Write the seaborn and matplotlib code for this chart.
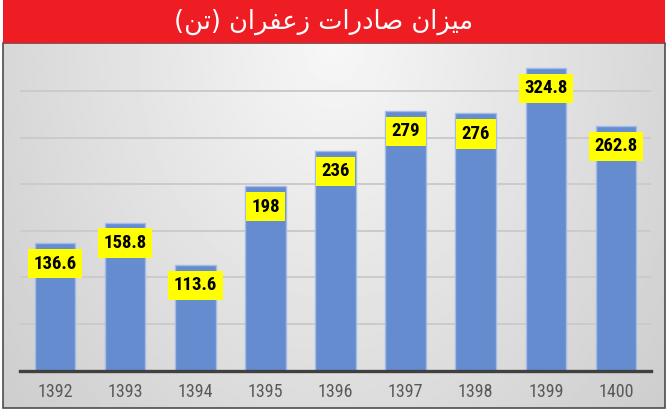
import numpy as np
import matplotlib.pyplot as plt
import matplotlib.patches as patches
from matplotlib import font_manager
import seaborn as sns

years = ["1392", "1393", "1394", "1395", "1396", "1397", "1398", "1399", "1400"]
exports = [136.6, 158.8, 113.6, 198, 236, 279, 276, 324.8, 262.8]
labels = ["136.6", "158.8", "113.6", "198", "236", "279", "276", "324.8", "262.8"]
title = "میزان صادرات زعفران (تن)"

# matplotlib has no arabic shaping, so pick presentation forms by hand
FORMS = {
    "ا": ("\uFE8D", "\uFE8E", None, None),
    "د": ("\uFEA9", "\uFEAA", None, None),
    "ر": ("\uFEAD", "\uFEAE", None, None),
    "ز": ("\uFEAF", "\uFEB0", None, None),
    "ت": ("\uFE95", "\uFE96", "\uFE97", "\uFE98"),
    "ص": ("\uFEB9", "\uFEBA", "\uFEBB", "\uFEBC"),
    "ع": ("\uFEC9", "\uFECA", "\uFECB", "\uFECC"),
    "ف": ("\uFED1", "\uFED2", "\uFED3", "\uFED4"),
    "م": ("\uFEE1", "\uFEE2", "\uFEE3", "\uFEE4"),
    "ن": ("\uFEE5", "\uFEE6", "\uFEE7", "\uFEE8"),
    "ی": ("\uFBFC", "\uFBFD", "\uFEF3", "\uFEF4"),
}


def shape(text):
    out = []
    for i, ch in enumerate(text):
        if ch not in FORMS:
            out.append(ch)
            continue
        iso, fin, ini, med = FORMS[ch]
        prev = text[i - 1] if i > 0 else ""
        nxt = text[i + 1] if i + 1 < len(text) else ""
        after = prev in FORMS and FORMS[prev][2] is not None
        before = ini is not None and nxt in FORMS
        if after and before:
            out.append(med)
        elif after:
            out.append(fin)
        elif before:
            out.append(ini)
        else:
            out.append(iso)
    vis = "".join(reversed(out))
    return vis.translate(str.maketrans("()", ")("))


sns.set_style("white")

# pick a narrow face if one is around
names = {f.name for f in font_manager.fontManager.ttflist}
narrow = "DejaVu Sans"
for cand in ["Liberation Sans Narrow", "DejaVu Sans Condensed", "Roboto Condensed"]:
    if cand in names:
        narrow = cand
        break

W, H = 668, 411
fig = plt.figure(figsize=(W / 100, H / 100), dpi=100)

# background panel with soft gradient
bg = fig.add_axes([0, 0, 1, 1])
bg.set_xlim(0, W)
bg.set_ylim(H, 0)
bg.axis("off")
gx, gy = np.meshgrid(np.linspace(0, 1, 300), np.linspace(0, 1, 200))
r = np.sqrt(((gx - 0.5) / 0.55) ** 2 + (gy / 1.3) ** 2)
grad = (247 - 35 * r) / 255
bg.imshow(grad, cmap="gray", vmin=0, vmax=1, extent=(3, 665, 408, 43),
          aspect="auto", zorder=0)
bg.add_patch(patches.Rectangle((3, 43), 662, 365, fill=False,
                               edgecolor="#4d4d4d", linewidth=1.2, zorder=2))
bg.add_patch(patches.Rectangle((3, 0), 662, 43, facecolor="#ee1d24",
                               edgecolor="none", zorder=2))
bg.text(324, 22, shape(title), color="white", fontsize=18.5, ha="center",
        va="center", family="DejaVu Sans", zorder=3)

ax = fig.add_axes([20 / W, 1 - 370.5 / H, 631 / W, (370.5 - 44.5) / H])
ax.set_facecolor("none")
sns.barplot(x=years, y=exports, color="#668cd0", saturation=1, width=0.58,
            edgecolor="#a3bde6", linewidth=1, ax=ax, zorder=3)

for i, (v, lab) in enumerate(zip(exports, labels)):
    ax.annotate(lab, (i, v), xytext=(0, -20.5), textcoords="offset pixels",
                ha="center", va="center", fontsize=13.5, fontweight="bold",
                family=narrow, stretch="condensed", color="black", zorder=5,
                bbox=dict(boxstyle="square,pad=0.3", facecolor="#ffff00",
                          edgecolor="none"))

ax.set_xlim(-0.5, 8.5)
ax.set_ylim(0, 350)
ax.set_yticks([50, 100, 150, 200, 250, 300])
ax.set_yticklabels([])
ax.grid(axis="y", color="#cbcbcb", linewidth=1.4, zorder=1)
ax.set_axisbelow(True)
ax.tick_params(axis="both", length=0)
ax.tick_params(axis="x", pad=9, labelsize=13, labelcolor="#595959")
for t in ax.get_xticklabels():
    t.set_family(narrow)
    t.set_stretch("condensed")
ax.set_xlabel("")
ax.set_ylabel("")
for s in ["left", "top", "right"]:
    ax.spines[s].set_visible(False)
ax.spines["bottom"].set_color("#404040")
ax.spines["bottom"].set_linewidth(2.4)
ax.spines["bottom"].set_zorder(6)

fig.savefig("out.png", dpi=100)
